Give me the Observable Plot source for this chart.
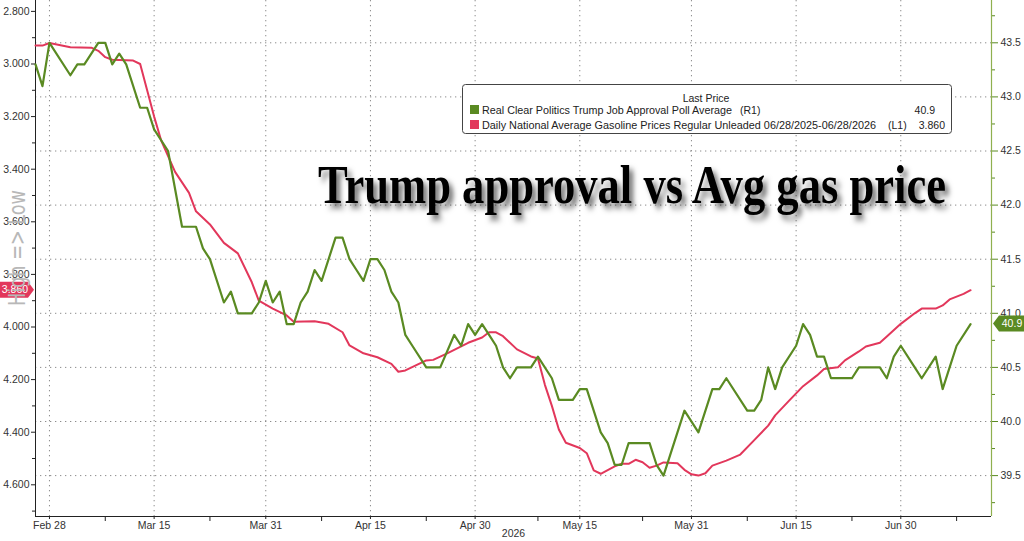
<!DOCTYPE html>
<html><head><meta charset="utf-8">
<script src="https://cdn.jsdelivr.net/npm/d3@7"></script>
<script src="https://cdn.jsdelivr.net/npm/@observablehq/plot@0.6"></script>
<style>
html,body{margin:0;padding:0;background:#fff;overflow:hidden}
#wrap{position:relative;width:1024px;height:541px}
#wrap svg{display:block}
#overlay{position:absolute;left:0;top:0;pointer-events:none}
</style></head><body>
<div id="wrap"></div>
<script>
// ---------- data ----------
const approvalDates = [
 "2026-02-26","2026-02-27","2026-02-28",
 "2026-03-03","2026-03-04","2026-03-05","2026-03-07","2026-03-08","2026-03-09","2026-03-10","2026-03-11","2026-03-13","2026-03-14","2026-03-15","2026-03-17","2026-03-19","2026-03-21","2026-03-22","2026-03-23","2026-03-25","2026-03-26","2026-03-27","2026-03-29","2026-03-30","2026-03-31",
 "2026-04-01","2026-04-02","2026-04-03","2026-04-04","2026-04-05","2026-04-06","2026-04-07","2026-04-08","2026-04-10","2026-04-11","2026-04-12","2026-04-13","2026-04-14","2026-04-15","2026-04-16","2026-04-17","2026-04-18","2026-04-19","2026-04-20","2026-04-21","2026-04-23","2026-04-25","2026-04-27","2026-04-28","2026-04-29","2026-04-30",
 "2026-05-01","2026-05-02","2026-05-03","2026-05-04","2026-05-05","2026-05-06","2026-05-08","2026-05-09","2026-05-11","2026-05-12","2026-05-14","2026-05-15","2026-05-16","2026-05-18","2026-05-19","2026-05-20","2026-05-21","2026-05-22","2026-05-25","2026-05-26","2026-05-27","2026-05-30",
 "2026-06-01","2026-06-03","2026-06-04","2026-06-05","2026-06-08","2026-06-09","2026-06-10","2026-06-11","2026-06-12","2026-06-13","2026-06-15","2026-06-16","2026-06-17","2026-06-18","2026-06-19","2026-06-20","2026-06-23","2026-06-24","2026-06-27","2026-06-28","2026-06-29","2026-06-30",
 "2026-07-02","2026-07-03","2026-07-05","2026-07-06","2026-07-07","2026-07-08","2026-07-10"
];
const approvalValues = [
 43.3,43.1,43.5,
 43.2,43.3,43.3,43.5,43.5,43.3,43.4,43.3,42.9,42.9,42.7,42.5,41.8,41.8,41.6,41.5,41.1,41.2,41.0,41.0,41.1,41.3,
 41.1,41.2,40.9,40.9,41.1,41.2,41.4,41.3,41.7,41.7,41.5,41.4,41.3,41.5,41.5,41.4,41.2,41.1,40.8,40.7,40.5,40.5,40.8,40.7,40.9,40.8,
 40.9,40.8,40.7,40.5,40.4,40.5,40.5,40.6,40.4,40.2,40.2,40.3,40.3,39.9,39.8,39.6,39.6,39.8,39.8,39.6,39.5,40.1,
 39.9,40.3,40.3,40.4,40.1,40.1,40.2,40.5,40.3,40.5,40.7,40.9,40.8,40.6,40.6,40.4,40.4,40.5,40.5,40.4,40.6,40.7,
 40.5,40.4,40.6,40.3,40.5,40.7,40.9
];
const gasDates = [
 "2026-02-26","2026-02-27","2026-02-28",
 "2026-03-03","2026-03-06","2026-03-07","2026-03-08","2026-03-09","2026-03-12","2026-03-13","2026-03-14","2026-03-15","2026-03-16","2026-03-18","2026-03-20","2026-03-21","2026-03-23","2026-03-25","2026-03-27","2026-03-29","2026-03-30",
 "2026-04-01","2026-04-03","2026-04-04","2026-04-07","2026-04-09","2026-04-11","2026-04-12","2026-04-14","2026-04-16","2026-04-18","2026-04-19","2026-04-20","2026-04-23","2026-04-24","2026-04-26","2026-04-29",
 "2026-05-01","2026-05-02","2026-05-03","2026-05-04","2026-05-06","2026-05-08","2026-05-09","2026-05-10","2026-05-11","2026-05-12","2026-05-13","2026-05-15","2026-05-16","2026-05-17","2026-05-18","2026-05-20","2026-05-21","2026-05-22","2026-05-23","2026-05-24","2026-05-25","2026-05-26","2026-05-27","2026-05-29","2026-05-30","2026-05-31",
 "2026-06-01","2026-06-02","2026-06-03","2026-06-05","2026-06-07","2026-06-09","2026-06-11","2026-06-12","2026-06-14","2026-06-16","2026-06-18","2026-06-19","2026-06-21","2026-06-22","2026-06-24","2026-06-25","2026-06-27","2026-06-28","2026-06-30",
 "2026-07-02","2026-07-03","2026-07-05","2026-07-06","2026-07-07","2026-07-09","2026-07-10"
];
const gasValues = [
 2.930,2.930,2.920,
 2.936,2.938,2.950,2.974,2.984,2.987,3.000,3.100,3.200,3.290,3.410,3.490,3.560,3.610,3.680,3.720,3.830,3.900,
 3.930,3.956,3.980,3.978,3.988,4.020,4.070,4.100,4.115,4.140,4.170,4.165,4.127,4.125,4.100,4.060,
 4.040,4.020,4.020,4.035,4.085,4.112,4.120,4.220,4.300,4.390,4.440,4.460,4.480,4.545,4.558,4.530,4.520,4.520,4.505,4.514,4.535,4.527,4.515,4.518,4.543,4.560,
 4.565,4.556,4.527,4.508,4.485,4.430,4.375,4.336,4.280,4.225,4.184,4.160,4.153,4.127,4.093,4.074,4.060,4.036,3.988,
 3.948,3.930,3.930,3.918,3.895,3.874,3.860
];
const leftTicks = [2.8,3.0,3.2,3.4,3.6,3.8,4.0,4.2,4.4,4.6];
const leftMinorTicks = [2.9,3.1,3.3,3.5,3.7,3.9,4.1,4.3,4.5,4.7];
const rightTicks = [39.5,40.0,40.5,41.0,41.5,42.0,42.5,43.0,43.5];
const rightMinorTicks = [39.25,39.75,40.25,40.75,41.25,41.75,42.25,42.75,43.25,43.75];
const dateTicks = ["2026-02-28","2026-03-15","2026-03-31","2026-04-15","2026-04-30","2026-05-15","2026-05-31","2026-06-15","2026-06-30"];
const dateTickLabels = ["Feb 28","Mar 15","Mar 31","Apr 15","Apr 30","May 15","May 31","Jun 15","Jun 30"];
const minorDateTicks = ["2026-03-08","2026-03-23","2026-04-08","2026-04-23","2026-05-09","2026-05-24","2026-06-08","2026-06-23","2026-07-08"];
const yearLabel = ["2026"];
const approvalName = "Real Clear Politics Trump Job Approval Poll Average";
const gasName = "Daily National Average Gasoline Prices Regular Unleaded 06/28/2025-06/28/2026";
const lastApproval = 40.9;
const lastGas = 3.860;
const titleText = "Trump approval vs Avg gas price";
const leftAxisNote = "High => Low";

// ---------- scales ----------
const GREEN = "#5a8a22", RED = "#e2375b", AXISGREEN = "#8fb04f";
const xDomain = [new Date("2026-02-26T00:00Z"), new Date("2026-07-13T00:00Z")];
const yDomain = [39.122, 43.891];            // right axis (approval)
const gasDomain = [2.7586, 4.7205];          // left axis (gas, inverted)
const gasToY = d3.scaleLinear().domain(gasDomain).range([yDomain[1], yDomain[0]]);

const approval = approvalDates.map((d, i) => ({date: new Date(d + "T00:00Z"), value: approvalValues[i]}));
const gas = gasDates.map((d, i) => ({date: new Date(d + "T00:00Z"), value: gasValues[i]}));
const dateTickDates = dateTicks.map(d => new Date(d + "T00:00Z"));
const minorDates = minorDateTicks.map(d => new Date(d + "T00:00Z"));
const labelOf = new Map(dateTickDates.map((d, i) => [+d, dateTickLabels[i]]));

const dots = {stroke: "#8c8c8c", strokeOpacity: 1, strokeWidth: 1, strokeDasharray: "1.3,3.7"};

const plot = Plot.plot({
  width: 1024, height: 541,
  marginTop: 0, marginBottom: 25, marginLeft: 35, marginRight: 33,
  style: {fontFamily: "'Liberation Sans', Arial, sans-serif", fontSize: "10.5px", color: "#333", background: "transparent"},
  x: {type: "utc", domain: xDomain},
  y: {domain: yDomain},
  marks: [
    Plot.gridY(rightTicks, dots),
    Plot.gridX(dateTickDates, dots),
    Plot.axisY(leftTicks.map(gasToY), {anchor: "left", tickSize: 4, tickPadding: 2, stroke: "#222",
      tickFormat: v => d3.format(".3f")(gasToY.invert(v)), label: null}),
    Plot.axisY(leftMinorTicks.map(gasToY), {anchor: "left", tickSize: 3, stroke: "#222", tickFormat: () => "", label: null}),
    Plot.axisY(rightTicks, {anchor: "right", tickSize: 6, tickPadding: 3, stroke: GREEN, tickFormat: ".1f", label: null}),
    Plot.axisY(rightMinorTicks, {anchor: "right", tickSize: 3, stroke: GREEN, tickFormat: () => "", label: null}),
    Plot.axisX(dateTickDates, {anchor: "bottom", tickSize: 3, tickPadding: 2, stroke: "#222",
      tickFormat: d => labelOf.get(+d), label: null}),
    Plot.axisX(minorDates, {anchor: "bottom", tickSize: 5, stroke: "#222", tickFormat: () => "", label: null}),
    Plot.ruleX([xDomain[0]], {stroke: "#222"}),
    Plot.ruleX([xDomain[1]], {stroke: AXISGREEN, strokeWidth: 1.2}),
    Plot.ruleY([yDomain[0]], {stroke: "#222"}),
    Plot.line(gas, {x: "date", y: d => gasToY(d.value), stroke: RED, strokeWidth: 2}),
    Plot.line(approval, {x: "date", y: "value", stroke: GREEN, strokeWidth: 2.2}),
    Plot.text(yearLabel, {frameAnchor: "bottom", dy: 20, fontSize: 10.5, fill: "#333"})
  ]
});
document.getElementById("wrap").appendChild(plot);

// value tags on both axes (positioned by the plot's y scale)
const yScale = plot.scale("y");
const svg = d3.select(plot);
const yg = yScale.apply(gasToY(lastGas));
const ya = yScale.apply(lastApproval);
const tags = svg.append("g");
tags.append("path")
  .attr("d", `M0,${yg - 8}H28L34,${yg}L28,${yg + 8}H0Z`).attr("fill", RED);
tags.append("text").attr("x", 15).attr("y", yg).attr("dy", "0.35em").attr("text-anchor", "middle")
  .attr("fill", "#fff").attr("font-size", 10.5).attr("font-family", "'Liberation Sans', Arial, sans-serif")
  .text(d3.format(".3f")(lastGas));
tags.append("path")
  .attr("d", `M993,${ya}L999,${ya - 8}H1024V${ya + 8}H999Z`).attr("fill", GREEN);
tags.append("text").attr("x", 1012).attr("y", ya).attr("dy", "0.35em").attr("text-anchor", "middle")
  .attr("fill", "#fff").attr("font-size", 10.5).attr("font-family", "'Liberation Sans', Arial, sans-serif")
  .text(d3.format(".1f")(lastApproval));

// ---------- overlay: note, title, legend ----------
const ov = d3.select("#wrap").append("svg").attr("id", "overlay").attr("width", 1024).attr("height", 541);
const defs = ov.append("defs");
const f = defs.append("filter").attr("id", "sh").attr("x", "-10%").attr("y", "-30%").attr("width", "130%").attr("height", "170%");
f.append("feDropShadow").attr("dx", 4).attr("dy", 4).attr("stdDeviation", 2.4).attr("flood-color", "#000").attr("flood-opacity", 0.55);

ov.append("text").attr("transform", "translate(25,248) rotate(-90)").attr("text-anchor", "middle")
  .attr("font-family", "'DejaVu Sans', sans-serif").attr("font-size", 23).attr("fill", "#b8b8b8")
  .attr("textLength", 116).attr("lengthAdjust", "spacingAndGlyphs")
  .text(leftAxisNote);

ov.append("text").attr("transform", "translate(318,203) scale(1,1.23)")
  .attr("font-family", "'Liberation Serif', 'Times New Roman', serif").attr("font-weight", "bold")
  .attr("font-size", 44).attr("textLength", 628).attr("lengthAdjust", "spacingAndGlyphs")
  .attr("fill", "#000").attr("filter", "url(#sh)").text(titleText);

const lg = ov.append("g").attr("font-family", "'Liberation Sans', Arial, sans-serif").attr("font-size", 10.5).attr("fill", "#222");
lg.append("rect").attr("x", 462.5).attr("y", 84.5).attr("width", 489).attr("height", 49).attr("rx", 3)
  .attr("fill", "#fff").attr("stroke", "#444");
lg.append("text").attr("x", 706).attr("y", 101.5).attr("text-anchor", "middle").text("Last Price");
lg.append("rect").attr("x", 470).attr("y", 105).attr("width", 9).attr("height", 9).attr("fill", GREEN);
lg.append("text").attr("x", 482).attr("y", 114).attr("textLength", 250).attr("lengthAdjust", "spacingAndGlyphs").text(approvalName);
lg.append("text").attr("x", 740).attr("y", 114).text("(R1)");
lg.append("text").attr("x", 935).attr("y", 114).attr("text-anchor", "end").text(d3.format(".1f")(lastApproval));
lg.append("rect").attr("x", 470).attr("y", 120).attr("width", 9).attr("height", 9).attr("fill", RED);
lg.append("text").attr("x", 482).attr("y", 129).attr("textLength", 394).attr("lengthAdjust", "spacingAndGlyphs").text(gasName);
lg.append("text").attr("x", 888).attr("y", 129).text("(L1)");
lg.append("text").attr("x", 945).attr("y", 129).attr("text-anchor", "end").text(d3.format(".3f")(lastGas));
</script>
</body></html>
